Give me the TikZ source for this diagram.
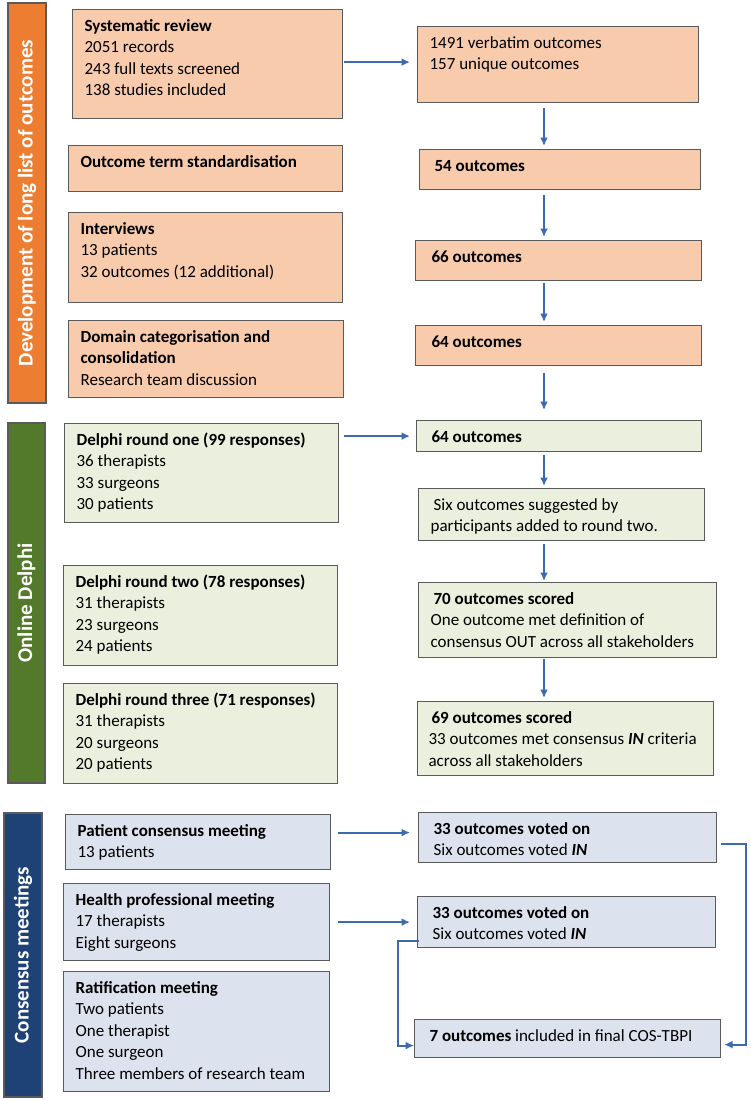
\documentclass[tikz,border=0pt]{standalone}
\usepackage{fontspec}
\setmainfont{Carlito}
\usetikzlibrary{positioning}
\usetikzlibrary{calc}
\usetikzlibrary{arrows.meta}

\definecolor{orbar}{HTML}{ED7D31}
\definecolor{orfill}{HTML}{F8CBAD}
\definecolor{grbar}{HTML}{53792A}
\definecolor{grfill}{HTML}{EBF0DE}
\definecolor{blbar}{HTML}{1F4276}
\definecolor{blfill}{HTML}{DCE2EE}
\definecolor{edgegrey}{HTML}{5A5A5A}
\definecolor{arrblue}{HTML}{3D69B0}

% width, height, left inset, text
\newcommand{\cell}[4]{\parbox[t][#2pt][t]{#1pt}{\leftskip=#3pt\rule{0pt}{21.5pt}#4}}

\tikzset{
  cellbox/.style={draw=edgegrey, line width=1.2pt, inner sep=0pt, anchor=north west,
    font=\fontsize{17}{21.5}\selectfont},
  orbox/.style={cellbox, fill=orfill},
  grbox/.style={cellbox, fill=grfill},
  blbox/.style={cellbox, fill=blfill},
  sidebar/.style={draw=edgegrey, line width=1.2pt, rotate=90, text=white, inner sep=0pt,
    font=\fontsize{21}{24}\selectfont\bfseries},
  arr/.style={draw=arrblue, line width=2pt, -{Latex[length=8.5pt,width=8pt]}},
}

\begin{document}
\begin{tikzpicture}[x=1pt,y=-1pt]
\useasboundingbox (0,0) rectangle (750,1100);
\fill[white] (0,0) rectangle (750,1100);

% side bars
\node[sidebar, fill=orbar, minimum width=400pt, minimum height=38pt] (devbar) at (27,203) {Development of long list of outcomes};
\node[sidebar, fill=grbar, minimum width=360pt, minimum height=37pt] (delbar) at (26.5,603) {Online Delphi};
\node[sidebar, fill=blbar, minimum width=284pt, minimum height=38pt] (conbar) at (23,955) {Consensus meetings};

% left column
\node[orbox] (sr) at (72,9) {\cell{270}{109}{12}{\textbf{Systematic review}\\2051 records\\243 full texts screened\\138 studies included}};
\node[orbox] (ots) at (68,145) {\cell{274}{46}{12}{\textbf{Outcome term standardisation}}};
\node[orbox] (intv) at (68,212) {\cell{274}{90}{12}{\textbf{Interviews}\\13 patients\\32 outcomes (12 additional)}};
\node[orbox] (dom) at (68,320) {\cell{275}{77}{12}{\textbf{Domain categorisation and}\\\textbf{consolidation}\\Research team discussion}};
\node[grbox] (d1) at (64,423) {\cell{274}{99}{12}{\textbf{Delphi round one (99 responses)}\\36 therapists\\33 surgeons\\30 patients}};
\node[grbox] (d2) at (63,565) {\cell{274}{100}{12}{\textbf{Delphi round two (78 responses)}\\31 therapists\\23 surgeons\\24 patients}};
\node[grbox] (d3) at (63,683) {\cell{274}{100}{12}{\textbf{Delphi round three (71 responses)}\\31 therapists\\20 surgeons\\20 patients}};
\node[blbox] (pm) at (65,814) {\cell{265}{55}{12}{\textbf{Patient consensus meeting}\\13 patients}};
\node[blbox] (hp) at (63,883) {\cell{266}{77}{12}{\textbf{Health professional meeting}\\17 therapists\\Eight surgeons}};
\node[blbox] (rm) at (63,971) {\cell{266}{120}{12}{\textbf{Ratification meeting}\\Two patients\\One therapist\\One surgeon\\Three members of research team}};

% right column
\node[orbox] (r1491) at (417,26) {\cell{281}{76}{12}{1491 verbatim outcomes\\157 unique outcomes}};
\node[orbox] (r54) at (419,149) {\cell{281}{40}{15}{\textbf{54 outcomes}}};
\node[orbox] (r66) at (415,240) {\cell{286}{40}{16}{\textbf{66 outcomes}}};
\node[orbox] (r64) at (415,325) {\cell{286}{40}{16}{\textbf{64 outcomes}}};
\node[grbox] (g64) at (416,420) {\cell{285}{31}{15}{\textbf{64 outcomes}}};
\node[grbox] (six) at (418,488) {\cell{286}{52}{12}{\hspace{3pt}Six outcomes suggested by\\participants added to round two.}};
\node[grbox] (s70) at (418,582) {\cell{298}{75}{12}{\hspace{3pt}\textbf{70 outcomes scored}\\One outcome met definition of\\consensus OUT across all stakeholders}};
\node[grbox] (s69) at (417,701) {\cell{296}{74}{11}{\hspace{3pt}\textbf{69 outcomes scored}\\33 outcomes met consensus \textbf{\textit{IN}} criteria\\across all stakeholders}};
\node[blbox] (v1) at (418,812) {\cell{298}{50}{15}{\textbf{33 outcomes voted on}\\Six outcomes voted \textbf{\textit{IN}}}};
\node[blbox] (v2) at (417,896) {\cell{298}{51}{15}{\textbf{33 outcomes voted on}\\Six outcomes voted \textbf{\textit{IN}}}};
\node[blbox] (fin) at (414,1019) {\cell{306}{38}{15}{\textbf{7 outcomes} included in final COS-TBPI}};

\coordinate (axis) at (544,0);
\coordinate (rgt) at (746,0);
\coordinate (lft) at (398,0);

% downward flow
\draw[arr, shorten <=5pt, shorten >=3pt] (r1491.south -| axis) -- (r54.north -| axis);
\draw[arr, shorten <=5pt, shorten >=3pt] (r54.south -| axis) -- (r66.north -| axis);
\draw[arr, shorten <=2pt, shorten >=3pt] (r66.south -| axis) -- (r64.north -| axis);
\draw[arr, shorten <=7pt, shorten >=10pt] (r64.south -| axis) -- (g64.north -| axis);
\draw[arr, shorten <=3pt, shorten >=2pt] (g64.south -| axis) -- (six.north -| axis);
\draw[arr, shorten <=3pt, shorten >=1pt] (six.south -| axis) -- (s70.north -| axis);
\draw[arr, shorten <=1pt, shorten >=3pt] (s70.south -| axis) -- (s69.north -| axis);

% across
\draw[arr, shorten <=1pt, shorten >=7pt] ($(sr.east)+(0,-2)$) -- ($(sr.east -| r1491.west)+(0,-2)$);
\draw[arr, shorten <=5pt, shorten >=6pt] (d1.east |- g64.west) -- (g64.west);
\draw[arr, shorten <=7pt, shorten >=8pt] ($(pm.east |- v1.west)+(0,-5)$) -- ($(v1.west)+(0,-5)$);
\draw[arr, shorten <=8pt, shorten >=7pt] (hp.east |- v2.west) -- (v2.west);

% into final set
\draw[arr, shorten <=4pt, shorten >=3pt] ($(v1.east)+(0,6)$) -- ($(v1.east -| rgt)+(0,6)$)
  -- ($(fin.east -| rgt)+(0,6)$) -- ($(fin.east)+(0,6)$);
\draw[arr] ($(v2.south west)+(2,-7)$) -- ($(v2.south west -| lft)+(0,-7)$)
  -- ($(fin.west -| lft)+(0,7)$) -- ($(fin.west)+(0,7)$);
\end{tikzpicture}
\end{document}
